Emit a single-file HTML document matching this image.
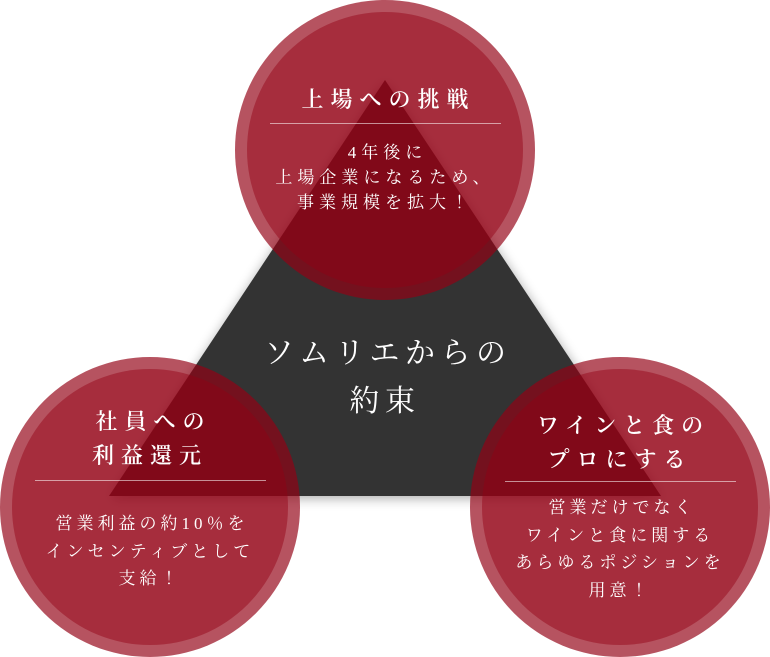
<!DOCTYPE html>
<html><head><meta charset="utf-8"><style>
body{margin:0;width:770px;height:657px;overflow:hidden;background:#fff;position:relative;font-family:"Liberation Serif","Noto Serif CJK JP","Noto Serif CJK SC",serif;color:#fff}
.t{position:absolute;left:0;width:770px;text-align:center;white-space:nowrap;line-height:1}
.ln{position:absolute;height:1px;background:rgba(255,255,255,0.55)}
</style></head><body>
<svg width="770" height="657" style="position:absolute;left:0;top:0">
<defs>
<filter id="sh" x="-20%" y="-20%" width="140%" height="140%"><feGaussianBlur stdDeviation="6"/></filter>
</defs>
<polygon points="385,82 111,498 661,498" fill="#000" opacity="0.35" filter="url(#sh)"/>
<polygon points="385,80 109,496 661,496" fill="#333"/>
<g>
<circle cx="385" cy="150" r="150" fill="rgba(147,1,20,0.68)"/>
<circle cx="385" cy="150" r="138" fill="rgba(147,1,20,0.45)"/>
<circle cx="150" cy="507" r="150" fill="rgba(147,1,20,0.68)"/>
<circle cx="150" cy="507" r="138" fill="rgba(147,1,20,0.45)"/>
<circle cx="620" cy="507" r="150" fill="rgba(147,1,20,0.68)"/>
<circle cx="620" cy="507" r="138" fill="rgba(147,1,20,0.45)"/>
</g>
</svg>
<div class="t" style="top:89px;font-size:22px;letter-spacing:7px;text-indent:7px;font-weight:600">上場への挑戦</div>
<div class="ln" style="left:270px;top:123px;width:231px"></div>
<div class="t" style="top:140px;font-size:17px;letter-spacing:5px;text-indent:5px;line-height:25px">4年後に<br>上場企業になるため、<br>事業規模を拡大！</div>
<div class="t" style="top:330px;font-size:30px;letter-spacing:5.5px;text-indent:5.5px;line-height:48px">ソムリエからの<br>約束</div>
<div class="t" style="left:-235px;top:405px;font-size:22px;letter-spacing:7px;text-indent:7px;line-height:34px;font-weight:600">社員への<br>利益還元</div>
<div class="ln" style="left:35px;top:480px;width:231px"></div>
<div class="t" style="left:-235px;top:510px;font-size:17px;letter-spacing:4px;text-indent:4px;line-height:27.5px">営業利益の約10％を<br>インセンティブとして<br>支給！</div>
<div class="t" style="left:235px;top:409px;font-size:22px;letter-spacing:7px;text-indent:7px;line-height:34px;font-weight:600">ワインと食の<br>プロにする</div>
<div class="ln" style="left:505px;top:481px;width:231px"></div>
<div class="t" style="left:235px;top:494px;font-size:17px;letter-spacing:4px;text-indent:4px;line-height:27.5px">営業だけでなく<br>ワインと食に関する<br>あらゆるポジションを<br>用意！</div>
</body></html>
